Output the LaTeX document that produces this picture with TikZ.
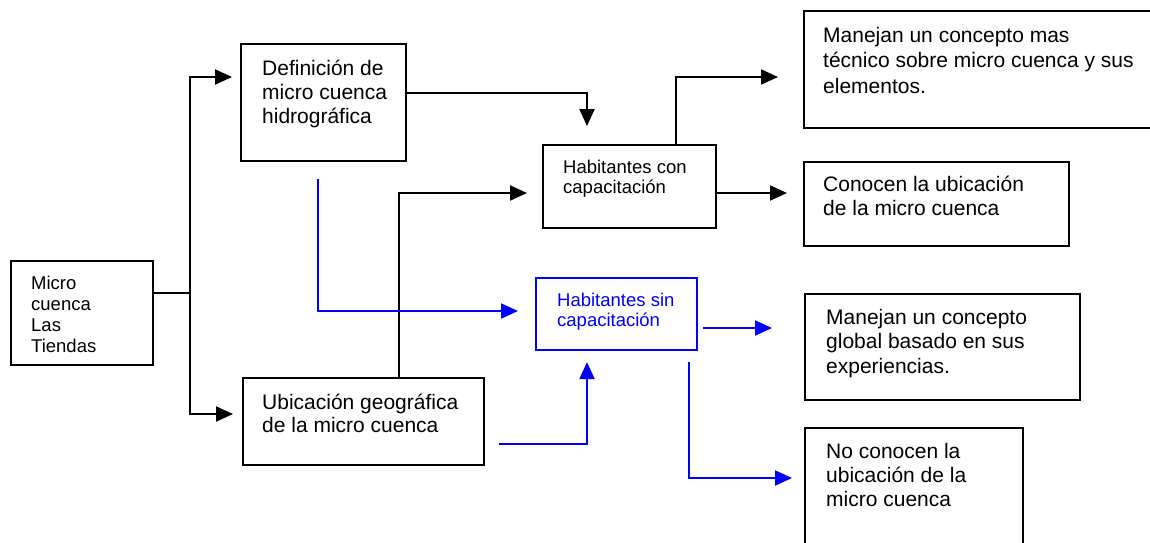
\documentclass[tikz,border=0pt]{standalone}
\usepackage{fontspec}
\setmainfont{Liberation Sans}
\usetikzlibrary{arrows.meta,calc}
\newcommand\fbig{\fontsize{21}{25}\selectfont}
\newcommand\fsmall{\fontsize{18.5}{20.5}\selectfont}
\newcommand\lines[1]{\begin{tabular}[t]{@{}l@{}}#1\end{tabular}}
\tikzset{
  box/.style={draw=black, line width=2.1pt, rectangle, anchor=north west, inner sep=0pt},
  bbox/.style={box, draw=blue},
  txt/.style={anchor=base west, inner sep=0pt, font=\fbig},
  stxt/.style={txt, font=\fsmall},
  line/.style={draw=black, line width=2.1pt},
  arr/.style={line, -{Triangle[length=17pt,width=15pt]}},
  barr/.style={arr, draw=blue},
}
\begin{document}
\begin{tikzpicture}[x=1pt,y=-1pt]
\useasboundingbox[fill=white] (0,0) rectangle (1150,542);
\clip (0,0) rectangle (1150,542);
% boxes
\node[box, minimum width=142pt, minimum height=104pt] (micro) at (10,260) {};
\node[box, minimum width=165pt, minimum height=117pt] (def) at (240,43) {};
\node[box, minimum width=241pt, minimum height=87pt] (ubi) at (242,377) {};
\node[box, minimum width=173pt, minimum height=83pt] (con) at (542,144) {};
\node[bbox, minimum width=161pt, minimum height=72pt] (sin) at (535,277) {};
\node[box, minimum width=360pt, minimum height=117pt] (tec) at (803,10) {};
\node[box, minimum width=265pt, minimum height=84pt] (conoc) at (803,161) {};
\node[box, minimum width=275pt, minimum height=106pt] (glob) at (804,293) {};
\node[box, minimum width=218pt, minimum height=140pt] (noc) at (804,427) {};
% texts
\node[stxt, font=\fontsize{18.5}{21}\selectfont] (microt) at (31,289) {\lines{Micro\\cuenca\\Las\\Tiendas}};
\node[txt, font=\fontsize{21}{24}\selectfont] (deft) at (262,75) {\lines{Definición de\\micro cuenca\\hidrográfica}};
\node[txt, font=\fontsize{21}{23.5}\selectfont] (ubit) at (262,409) {\lines{Ubicación geográfica\\de la micro cuenca}};
\node[stxt] (cont) at (563,173) {\lines{Habitantes con\\capacitación}};
\node[stxt, text=blue] (sint) at (557,306) {\lines{Habitantes sin\\capacitación}};
\node[txt, font=\fontsize{21}{25.8}\selectfont] (tect) at (823,42) {\lines{Manejan un concepto mas\\técnico sobre micro cuenca y sus\\elementos.}};
\node[txt, font=\fontsize{21}{24.3}\selectfont] (conoct) at (823,191) {\lines{Conocen la ubicación\\de la micro cuenca}};
\node[txt, font=\fontsize{21}{24.6}\selectfont] (globt) at (826,324) {\lines{Manejan un concepto\\global basado en sus\\experiencias.}};
\node[txt, font=\fontsize{21}{24.2}\selectfont] (noct) at (826,458) {\lines{No conocen la\\ubicación de la\\micro cuenca}};
% black connectors
\coordinate (j) at ($(micro.north east)+(36,33)$);
\draw[line] ($(micro.north east)+(0,33)$) -- (j);
\draw[arr, shorten >=8pt] (j) |- ($(def.north west)+(0,34)$);
\draw[arr, shorten >=9pt] (j) |- ($(ubi.north west)+(0,37)$);
\draw[arr, shorten >=18pt] ($(def.north east)+(0,50)$) -| ($(con.north west)+(45,0)$);
\draw[arr, shorten >=15pt] ($(ubi.north west)+(157,0)$) |- ($(con.north west)+(0,49)$);
\draw[arr, shorten >=25pt] ($(con.north west)+(134,0)$) |- ($(tec.north west)+(0,67)$);
\draw[arr, shorten >=16pt] ($(con.north east)+(0,49)$) -- ($(conoc.north west)+(0,32)$);
% blue connectors
\draw[barr, shorten >=17pt] ($(def.south west)+(78,17)$) |- ($(sin.north west)+(0,34)$);
\draw[barr, shorten >=11pt] ($(ubi.north east)+(14,67)$) -| ($(sin.south west)+(52,0)$);
\draw[barr, shorten >=32pt] ($(sin.north east)+(5,51)$) -- ($(glob.north west)+(0,35)$);
\draw[barr, shorten >=12pt] ($(sin.south west)+(154,11)$) |- ($(noc.north west)+(0,51)$);
\end{tikzpicture}
\end{document}
